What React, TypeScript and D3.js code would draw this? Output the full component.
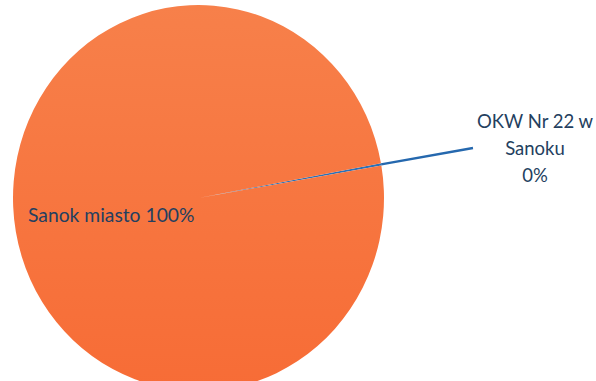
import React from "react";
import * as d3 from "d3";

// Share of votes by electoral district
const categories = ["OKW Nr 22 w Sanoku", "Sanok miasto"];
const values = [0.2, 99.8];
const sliceColors = ["#2971B8", "#F7763F"];

const WIDTH = 596;
const HEIGHT = 381;

export default function App() {
  const cx = 198.5;
  const cy = 198;
  const r = 193;
  const xStretch = 185.5 / 193;

  const total = d3.sum(values);
  const pct = (v: number) => `${Math.round((v / total) * 100)}%`;

  const pie = d3
    .pie<number>()
    .sort(null)
    .value((d) => d)
    .startAngle((79.6 * Math.PI) / 180)
    .endAngle((79.6 * Math.PI) / 180 + 2 * Math.PI);
  const arcs = pie(values);
  const arc = d3.arc<d3.PieArcDatum<number>>().innerRadius(0).outerRadius(r);

  // leader line from the small slice outwards to its label
  const small = arcs[0];
  const mid = (small.startAngle + small.endAngle) / 2;
  const edgeX = cx + Math.sin(mid) * r * xStretch;
  const edgeY = cy - Math.cos(mid) * r;
  const labelLines = ["OKW Nr 22 w", "Sanoku", pct(values[0])];

  return (
    <div style={{ position: "fixed", left: 0, top: 0 }}>
      <svg width={WIDTH} height={HEIGHT} style={{ display: "block" }}>
        <defs>
          <linearGradient id="pieFill" x1="0" y1="0" x2="0" y2="1">
            <stop offset="0%" stopColor="#F7804A" />
            <stop offset="100%" stopColor="#F76C36" />
          </linearGradient>
        </defs>
        <rect width={WIDTH} height={HEIGHT} fill="#ffffff" />
        <g transform={`translate(${cx},${cy}) scale(${xStretch},1)`}>
          {arcs.map((a, i) => (
            <path
              key={categories[i]}
              d={arc(a) || ""}
              fill={i === 1 ? "url(#pieFill)" : sliceColors[i]}
            />
          ))}
        </g>
        <line
          x1={edgeX}
          y1={edgeY}
          x2={473}
          y2={148}
          stroke="#2568AE"
          strokeWidth={2.4}
        />
        <text
          x={535}
          y={128}
          textAnchor="middle"
          fontFamily="Lato, 'Open Sans', sans-serif"
          fontSize={18.5}
          fill="#243F60"
        >
          {labelLines.map((t, i) => (
            <tspan key={i} x={535} dy={i === 0 ? 0 : 27}>
              {t}
            </tspan>
          ))}
        </text>
        <text
          x={28}
          y={222}
          fontFamily="Lato, 'Open Sans', sans-serif"
          fontSize={19.3}
          fill="#243F60"
        >
          {`${categories[1]} ${pct(values[1])}`}
        </text>
      </svg>
    </div>
  );
}
